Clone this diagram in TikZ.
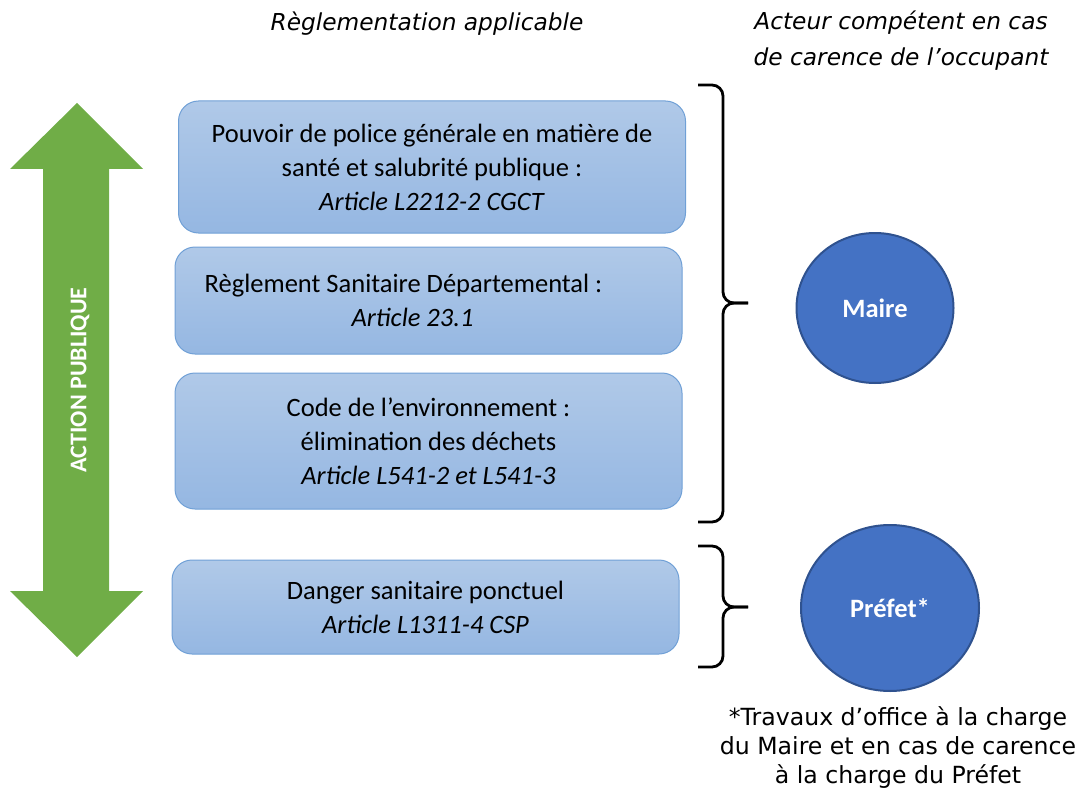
\documentclass[tikz,border=0pt]{standalone}
\usepackage{fontspec}
\setmainfont{Carlito}
\newfontfamily\notefont{DejaVu Sans}
\usepackage{tikz}
\usetikzlibrary{shapes.geometric}
\usetikzlibrary{positioning}

\definecolor{boxtop}{RGB}{176,201,232}
\definecolor{boxbot}{RGB}{149,183,226}
\definecolor{boxline}{RGB}{112,160,214}
\definecolor{actgreen}{RGB}{112,173,71}
\definecolor{actfill}{RGB}{68,114,196}
\definecolor{actline}{RGB}{47,82,143}

\begin{document}
\begin{tikzpicture}[x=1pt,y=-1pt,semithick]
	\tikzstyle{regle}=[draw=boxline, line width=1pt, rounded corners=20pt, top color=boxtop, bottom color=boxbot, minimum width=507pt, align=center, font=\fontsize{26.5}{34}\selectfont]
	\tikzstyle{acteur}=[draw=actline, line width=2pt, ellipse, fill=actfill, text=white, font=\fontsize{26.5}{32}\selectfont\bfseries]
	\tikzstyle{titre}=[align=center, font=\notefont\fontsize{23.3}{36}\selectfont\itshape]
	\tikzstyle{accolade}=[line width=2.8pt, rounded corners=11pt]
	\useasboundingbox (0,0) rectangle (1082,789);

	% fleche action publique
	\fill[actgreen] (77,103) -- (143,169) -- (109,169) -- (109,591) -- (143,591) -- (77,657)
		-- (10,591) -- (43,591) -- (43,169) -- (10,169) -- cycle;
	\node[rotate=90, text=white, font=\fontsize{24}{28}\selectfont\bfseries] (action) at (80,380) {ACTION PUBLIQUE};

	% titres
	\node[titre] (regtitre) at (427,24) {Règlementation applicable};
	\node[titre] (acttitre) at (901,41) {Acteur compétent en cas\\de carence de l’occupant};

	% reglementation
	\node[regle, minimum height=132pt] (police) at (432,167) {Pouvoir de police générale en matière de\\santé et salubrité publique :\\\textit{Article L2212-2 CGCT}};
	\node[regle, minimum height=107pt] (rsd) at (428.5,300.5) {Règlement Sanitaire Départemental :\hspace*{50pt}\\\textit{Article 23.1}\hspace*{32pt}};
	\node[regle, minimum height=136pt] (env) at (428.5,441) {Code de l’environnement :\\élimination des déchets\\\textit{Article L541-2 et L541-3}};
	\node[regle, minimum height=94pt] (danger) at (425.5,607) {Danger sanitaire ponctuel\\\textit{Article L1311-4 CSP}};

	% accolades
	\draw[accolade] (698,85) -- (723,85) -- (723,303) -- (748,303);
	\draw[accolade] (748,303) -- (723,303) -- (723,522) -- (698,522);
	\draw[accolade] (698,546) -- (723,546) -- (723,607) -- (748,607);
	\draw[accolade] (748,607) -- (723,607) -- (723,667) -- (698,667);

	% acteurs
	\node[acteur, minimum width=157pt, minimum height=150pt] (maire) at (875,308) {Maire};
	\node[acteur, minimum width=178pt, minimum height=166pt] (prefet) at (890,608) {Préfet*};

	\node[align=center, font=\notefont\fontsize{23.6}{29}\selectfont, below=11pt of prefet, xshift=8pt] (note) {*Travaux d’office à la charge\\du Maire et en cas de carence\\à la charge du Préfet};
\end{tikzpicture}
\end{document}
